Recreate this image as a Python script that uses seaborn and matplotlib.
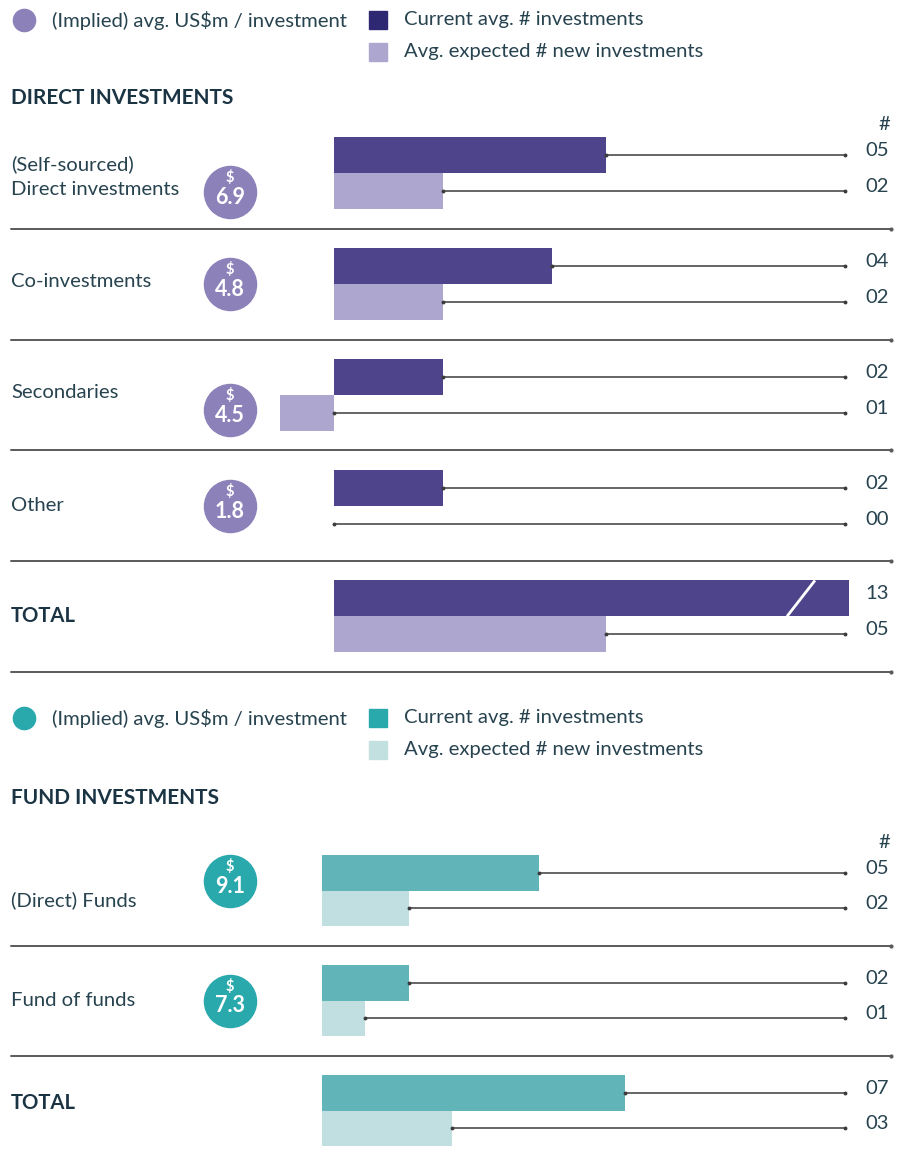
import numpy as np
import pandas as pd
import matplotlib.pyplot as plt
import matplotlib.transforms as mtransforms
from matplotlib.lines import Line2D
import seaborn as sns

# --- data ---
direct_categories = ['(Self-sourced)\nDirect investments', 'Co-investments', 'Secondaries', 'Other', 'TOTAL']
direct_current = [5, 4, 2, 2, 13]
direct_expected = [2, 2, 1, 0, 5]
direct_avg_size = ['6.9', '4.8', '4.5', '1.8', None]

fund_categories = ['(Direct) Funds', 'Fund of funds', 'TOTAL']
fund_current = [5, 2, 7]
fund_expected = [2, 1, 3]
fund_avg_size = ['9.1', '7.3', None]

legend_circle = '(Implied) avg. US$m / investment'
legend_current = 'Current avg. # investments'
legend_expected = 'Avg. expected # new investments'

# --- styling / layout ---
W, H = 906, 1171
TEXT = '#27434f'
HEAD = '#1b3444'
LINE = '#3c3c3c'
SEP = '#5a5a5a'
FS = 14.6

sns.set_style('white')
plt.rcParams['font.family'] = ['Lato', 'DejaVu Sans']

fig = plt.figure(figsize=(W / 100, H / 100), dpi=100)


def fx(px):
    return px / W


def fy(py):
    return 1 - py / H


def draw_legend(top, circle_col, dark_col, light_col):
    fig.add_artist(Line2D([fx(24)], [fy(top)], marker='o', ms=16, color=circle_col,
                          transform=fig.transFigure, lw=0))
    fig.text(fx(52), fy(top), legend_circle, fontsize=FS, color=TEXT, va='center')
    for dy, col, txt in [(0, dark_col, legend_current), (32, light_col, legend_expected)]:
        fig.add_artist(Line2D([fx(378)], [fy(top + dy)], marker='s', ms=12.5, color=col,
                              transform=fig.transFigure, lw=0))
        fig.text(fx(404), fy(top + dy), txt, fontsize=FS, color=TEXT, va='center')


def draw_section(top, bottom, zero_px, unit_px, cats, cur, exp, sizes, colors, circle_col,
                 seps, exp_sign=None, break_at=None, circle_dy=None, label_dy=None):
    n = len(cats)
    ax = fig.add_axes([0, fy(bottom), 1, (bottom - top) / H])
    if exp_sign is None:
        exp_sign = [1] * n
    cur_draw = [min(v, break_at) if break_at else v for v in cur]
    exp_draw = [v * s for v, s in zip(exp, exp_sign)]
    df = pd.DataFrame({
        'category': cats * 2,
        'series': ['current'] * n + ['expected'] * n,
        'value': cur_draw + exp_draw,
    })
    sns.barplot(data=df, y='category', x='value', hue='series', orient='h',
                palette=colors, width=0.65, saturation=1, errorbar=None,
                linewidth=0, legend=False, ax=ax)
    ax.set_xlim(-zero_px / unit_px, (W - zero_px) / unit_px)
    ax.set_ylim(n - 0.5, -0.5)
    ax.axis('off')

    to_x = lambda px: (px - zero_px) / unit_px
    blend = mtransforms.blended_transform_factory(ax.transAxes, ax.transData)
    line_end = to_x(845)

    for i in range(n):
        for val, drawn, off in [(cur[i], cur_draw[i], -0.1625), (exp[i], exp_draw[i], 0.1625)]:
            y = i + off
            if drawn == val or drawn < 0 or val == 0:
                x0 = max(drawn, 0)
                ax.plot([x0, line_end], [y, y], color=LINE, lw=1.1,
                        marker='o', ms=1.8, clip_on=False)
            ax.text(fx(889), y - 0.04, f'{val:02d}', transform=blend, ha='right',
                    va='center', fontsize=FS, color=TEXT)
        # row label
        bold = cats[i] == 'TOTAL'
        dy = label_dy[i] if label_dy else 0
        ax.text(fx(11), i + dy, cats[i], transform=blend, ha='left', va='center',
                fontsize=FS, fontweight='bold' if bold else 'normal',
                color=HEAD if bold else TEXT, linespacing=1.6)
        # average size bubble
        if sizes[i] is not None:
            cy = i + (circle_dy[i] if circle_dy else 0)
            ax.plot([fx(230)], [cy], marker='o', ms=37.5, color=circle_col, lw=0,
                    transform=blend, clip_on=False)
            ax.text(fx(230), cy - 0.13, '$', transform=blend, ha='center', va='center',
                    fontsize=10.5, fontweight='bold', color='white')
            ax.text(fx(230), cy + 0.05, sizes[i], transform=blend, ha='center', va='center',
                    fontsize=15.5, fontweight='bold', color='white')

    # broken bar marker
    if break_at:
        for i, v in enumerate(cur):
            if v > break_at:
                ax.plot([to_x(787), to_x(815)], [i, i - 0.325], color='white', lw=2,
                        solid_capstyle='butt')

    # separators
    for s in seps:
        ax.plot([fx(11), fx(891)], [s + 0.5, s + 0.5], color=SEP, lw=1.4,
                transform=blend, clip_on=False)
        ax.plot([fx(891)], [s + 0.5], marker='o', ms=2, color=SEP,
                transform=blend, clip_on=False)

    ax.text(fx(884), -0.44, '#', transform=blend, ha='center', va='center',
            fontsize=FS, color=TEXT)
    return ax


# --- direct investments ---
draw_legend(20, '#8c82b9', '#2e2873', '#ada6cf')
fig.text(fx(11), fy(98), 'DIRECT INVESTMENTS', fontsize=15, fontweight='bold',
         color=HEAD, va='center')
draw_section(118, 671.75, 334, 54.4, direct_categories, direct_current, direct_expected,
             direct_avg_size, ['#4e448b', '#ada6cf'], '#8c82b9',
             seps=[0, 1, 2, 3, 4], exp_sign=[1, 1, -1, 1, 1], break_at=9.47,
             circle_dy=[0.17, 0, 0.14, 0, 0], label_dy=[0.03, -0.02, -0.02, 0, 0])

# --- fund investments ---
draw_legend(718, '#2aa9ad', '#2aa9ad', '#c3e0e1')
fig.text(fx(11), fy(798), 'FUND INVESTMENTS', fontsize=15, fontweight='bold',
         color=HEAD, va='center')
draw_section(835.5, 1165.5, 322, 43.3, fund_categories, fund_current, fund_expected,
             fund_avg_size, ['#61b5b8', '#c1dfe0'], '#2aa9ad',
             seps=[0, 1], circle_dy=[-0.09, 0, 0], label_dy=[0.09, 0, -0.07])

plt.savefig('out.png', dpi=100)
